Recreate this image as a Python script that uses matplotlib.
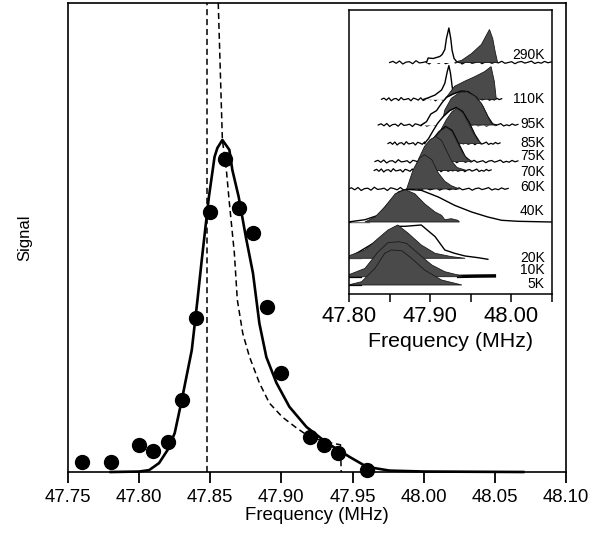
import numpy as np
import matplotlib
matplotlib.use("Agg")
import matplotlib.pyplot as plt

plt.rcParams['font.family'] = ['Liberation Sans', 'DejaVu Sans']

# =========================
# Main panel data (signal normalised to axis height)
# =========================
dot_freq = [47.76, 47.78, 47.80, 47.81, 47.82, 47.83, 47.84, 47.85, 47.86,
            47.87, 47.88, 47.89, 47.90, 47.92, 47.93, 47.94, 47.96]
dot_signal = [0.021, 0.021, 0.058, 0.045, 0.064, 0.154, 0.328, 0.554, 0.667,
              0.563, 0.510, 0.352, 0.211, 0.075, 0.058, 0.041, 0.004]

fit_freq = [47.780, 47.800, 47.807, 47.814, 47.820, 47.825, 47.830, 47.837,
            47.841, 47.844, 47.849, 47.853, 47.855, 47.8585, 47.8634, 47.8655,
            47.870, 47.875, 47.880, 47.8845, 47.8894, 47.8965, 47.9056,
            47.9176, 47.932, 47.948, 47.960, 47.976, 48.000, 48.070]
fit_signal = [0.0, 0.001, 0.004, 0.019, 0.047, 0.083, 0.154, 0.260,
              0.367, 0.452, 0.586, 0.672, 0.691, 0.708, 0.687, 0.644,
              0.586, 0.501, 0.424, 0.317, 0.245, 0.190, 0.139,
              0.096, 0.062, 0.032, 0.011, 0.003, 0.001, 0.0]

powder_freq = [47.8556, 47.8585, 47.8613, 47.8634, 47.8669, 47.869, 47.8728,
               47.8775, 47.8845, 47.8915, 47.9007, 47.9106, 47.9197, 47.9317,
               47.9415, 47.942]
powder_signal = [1.0, 0.708, 0.644, 0.574, 0.467, 0.367, 0.296,
                 0.246, 0.190, 0.147, 0.117, 0.094, 0.075, 0.064,
                 0.058, 0.0]
edge_freq = 47.848

main_ticks = [47.75, 47.80, 47.85, 47.90, 47.95, 48.00, 48.05, 48.10]

# =========================
# Inset data (heights in px-like units above the inset bottom)
# =========================
temps = ["290K", "110K", "95K", "85K", "75K", "70K", "60K", "40K", "20K", "10K", "5K"]
base_level = [231.5, 194.7, 169.0, 150.5, 132.5, 123.5, 105.0, 72.0, 35.7, 17.3, 9.0]
label_level = [239.0, 195.0, 170.0, 151.3, 138.3, 121.7, 106.7, 83.3, 36.5, 23.5, 10.5]
base_start = [47.850, 47.840, 47.836, 47.848, 47.832, 47.831, 47.799, 47.799, 47.799, 47.799, 47.799]
base_end = [48.049, 47.988, 48.008, 47.986, 48.008, 47.975, 47.996, 47.825, 47.815, 47.815, 47.815]
noisy = [True, True, True, True, True, True, True, False, False, False, False]

# baseline noise, read off roughly (px)
wiggle = [0, 1.2, -0.8, 1.5, -1.5, 0.4, 0.8, -1.2, 1.8, -0.4, 0, 0.8, -1.5, 1.2,
          0.4, -0.8, 1.5, -1.2, 0, 0.8, -0.4, 1.2, -1.5, 0.4, 0.8, -0.8, 0, 1.5,
          -1.2, 0.4, 0.8, -0.8, 0.4, -0.4, 1.2, -0.8, 0, 0.8, -1.2, 0.4, 1.0,
          -0.6, 0.3, 1.4, -1.0, 0.2, -0.7, 1.1, -0.3, 0.6]

gray_290_f = [47.930, 47.939, 47.951, 47.963, 47.969, 47.973, 47.977, 47.980, 47.983]
gray_290_h = [0, 2.3, 9, 18, 27, 33, 24, 11, 0]
gray_110_f = [47.918, 47.922, 47.930, 47.943, 47.955, 47.967, 47.975, 47.979, 47.9814]
gray_110_h = [0, 4.3, 13, 18.3, 22.7, 27.7, 32.7, 17.7, 0]
gray_95_f = [47.914, 47.918, 47.926, 47.936, 47.945, 47.955, 47.963, 47.969, 47.975, 47.979]
gray_95_h = [0, 15, 26.7, 32.3, 33.3, 29, 21.7, 11.7, 1.7, 0]
gray_85_f = [47.905, 47.912, 47.920, 47.927, 47.933, 47.940, 47.946, 47.952, 47.958, 47.963]
gray_85_h = [0, 12, 24, 32, 35, 31, 22, 12, 4, 0]
gray_75_f = [47.893, 47.899, 47.906, 47.913, 47.920, 47.927, 47.933, 47.939, 47.945, 47.952]
gray_75_h = [0, 12, 24, 31, 34, 30, 20, 10, 3, 0]
gray_70_f = [47.880, 47.886, 47.893, 47.900, 47.907, 47.914, 47.920, 47.926, 47.933, 47.945]
gray_70_h = [0, 12, 24, 31, 34, 30, 20, 10, 3, 0]
gray_60_f = [47.871, 47.879, 47.887, 47.893, 47.902, 47.910, 47.918, 47.926, 47.936]
gray_60_h = [0, 19.3, 31, 34.3, 29.3, 16, 7.7, 3.3, 0]
gray_40_f = [47.8197, 47.832, 47.844, 47.857, 47.869, 47.881, 47.893, 47.906,
             47.914, 47.918, 47.926, 47.934, 47.936]
gray_40_h = [0, 5, 15, 28.3, 32.3, 28.3, 18.3, 10, 6.7, 2.3, 3.3, 1.7, 0]
gray_20_f = [47.799, 47.8197, 47.836, 47.848, 47.860, 47.873, 47.889, 47.906, 47.926, 47.943]
gray_20_h = [2.3, 8.3, 20, 28.3, 33.3, 25, 13.3, 5, 1.7, 0]
gray_10_f = [47.799, 47.8197, 47.836, 47.848, 47.861, 47.871, 47.885, 47.902, 47.918, 47.939]
gray_10_h = [1.7, 8.3, 25, 34, 35, 33.3, 23.3, 11.7, 5, 0.7]
gray_5_f = [47.799, 47.8156, 47.832, 47.844, 47.852, 47.865, 47.877, 47.893, 47.914, 47.939]
gray_5_h = [0, 3.3, 16.7, 31.7, 35, 34.3, 26.7, 15, 5, 0]

# black (unfilled) spectra drawn over white
line_290_f = [47.8954, 47.8975, 47.9036, 47.9118, 47.9147, 47.918, 47.920,
              47.923, 47.9253, 47.927, 47.9294, 47.9325, 47.936]
line_290_h = [0, 4.5, 4, 6, 8, 13, 24, 34.5, 24, 12, 4, 1, 0]
line_110_f = [47.892, 47.8975, 47.906, 47.914, 47.918, 47.921, 47.923, 47.925,
              47.927, 47.9286, 47.930]
line_110_h = [0, 1.5, 4.3, 9.3, 16, 27.7, 33.7, 26, 13, 4.3, 0]
line_95_f = [47.889, 47.8954, 47.9008, 47.9077, 47.914, 47.920, 47.9282, 47.9384,
             47.9466, 47.9569, 47.965, 47.971, 47.977, 47.9814]
line_95_h = [0, 3.3, 11, 14.3, 21.7, 27.7, 31, 34, 33.3, 27.7, 18.3, 8.3, 1, 0]
line_85_f = [47.893, 47.898, 47.903, 47.909, 47.916, 47.924, 47.932, 47.940, 47.948, 47.955, 47.962]
line_85_h = [0, 5, 12, 20, 27, 33, 36, 32, 21, 9, 0]
line_75_f = [47.885, 47.890, 47.896, 47.903, 47.911, 47.919, 47.927, 47.935, 47.943, 47.950]
line_75_h = [0, 6, 14, 22, 30, 35, 31, 18, 5, 0]
line_40_f = [47.799, 47.8197, 47.836, 47.848, 47.861, 47.869, 47.877, 47.889,
             47.910, 47.930, 47.951, 47.971, 47.988, 48.008, 48.049]
line_40_h = [0, 2.3, 6.7, 18.3, 30, 32.3, 32.3, 31.7, 25, 16.7, 10, 5, 1.7, 0.7, 0]
line_20_f = [47.799, 47.836, 47.860, 47.869, 47.889, 47.906, 47.918, 47.930,
             47.943, 47.960, 47.971]
line_20_h = [0, 18, 32, 32, 33.3, 21.7, 8.3, 5, 2.3, 0.5, -1]
line_10_f = [47.935, 47.955, 47.979]
line_10_h = [0.3, 0.6, 0.8]

gray_f = [gray_290_f, gray_110_f, gray_95_f, gray_85_f, gray_75_f, gray_70_f,
          gray_60_f, gray_40_f, gray_20_f, gray_10_f, gray_5_f]
gray_h = [gray_290_h, gray_110_h, gray_95_h, gray_85_h, gray_75_h, gray_70_h,
          gray_60_h, gray_40_h, gray_20_h, gray_10_h, gray_5_h]
line_f = [line_290_f, line_110_f, line_95_f, line_85_f, line_75_f, None,
          None, line_40_f, line_20_f, line_10_f, None]
line_h = [line_290_h, line_110_h, line_95_h, line_85_h, line_75_h, None,
          None, line_40_h, line_20_h, line_10_h, None]

inset_major = [47.80, 47.90, 48.00]
inset_minor = [47.85, 47.95, 48.05]

# =========================
# Figure
# =========================
W, H = 608, 535
fig = plt.figure(figsize=(W / 100, H / 100), dpi=100)

ax = fig.add_axes([68 / W, 1 - 472 / H, (566 - 68) / W, (472 - 3) / H])
ax.plot(fit_freq, fit_signal, color="black", lw=1.9, zorder=3, clip_on=False)
ax.plot(powder_freq, powder_signal, color="black", lw=1.1, ls=(0, (4, 2.5)), zorder=2)
ax.plot([edge_freq, edge_freq], [0, 1], color="black", lw=1.1, ls=(0, (4, 2.5)), zorder=2)
ax.plot(dot_freq, dot_signal, "o", color="black", ms=10, zorder=4, clip_on=False)

ax.set_xlim(47.75, 48.10)
ax.set_ylim(0, 1)
ax.set_xticks(main_ticks)
ax.set_xticklabels([f"{t:.2f}" for t in main_ticks])
ax.set_yticks([])
ax.tick_params(axis="x", direction="out", length=8, width=1.3, labelsize=13.4, pad=4)
for s in ax.spines.values():
    s.set_linewidth(1.2)
ax.set_xlabel("Frequency (MHz)", fontsize=13.4, labelpad=1)
fig.text(25 / W, 1 - 238 / H, "Signal", rotation=90, ha="center", va="center", fontsize=12)

# inset
axi = fig.add_axes([349 / W, 1 - 294 / H, (552 - 349) / W, (294 - 10) / H])
axi.set_xlim(47.80, 48.05)
axi.set_ylim(0, 284)
for i, t in enumerate(temps):
    b = base_level[i]
    z = 10 + 3 * i
    if noisy[i]:
        xs = np.linspace(base_start[i], base_end[i], len(wiggle))
        axi.plot(xs, b + np.array(wiggle), color="black", lw=0.9, zorder=z)
    else:
        axi.plot([base_start[i], base_end[i]], [b, b], color="black", lw=0.9, zorder=z)
    if line_f[i] is not None:
        lf = np.array(line_f[i])
        lh = np.array(line_h[i])
        axi.fill_between(lf, b, b + lh, color="white", zorder=z + 0.5, lw=0)
        axi.plot(lf, b + lh, color="black", lw=1.0 if t != "10K" else 2.5, zorder=z + 0.6)
    gf = np.array(gray_f[i])
    gh = np.array(gray_h[i])
    axi.fill(np.r_[gf, gf[::-1]], np.r_[b + gh, np.full(len(gf), b)],
             facecolor="#4a4a4a", edgecolor="#1a1a1a", lw=0.6, zorder=z + 1)
    axi.text(48.041, label_level[i], t, ha="right", va="center", fontsize=10, zorder=50)

axi.set_xticks(inset_major)
axi.set_xticklabels([f"{t:.2f}" for t in inset_major])
axi.set_xticks(inset_minor, minor=True)
axi.set_yticks([])
axi.tick_params(axis="x", which="both", direction="out", length=6, width=1.1,
                labelsize=15.8, pad=3)
for s in axi.spines.values():
    s.set_linewidth(1.1)
    s.set_zorder(60)
axi.set_xlabel("Frequency (MHz)", fontsize=15.4, labelpad=3)

fig.savefig("out.png", dpi=100)
